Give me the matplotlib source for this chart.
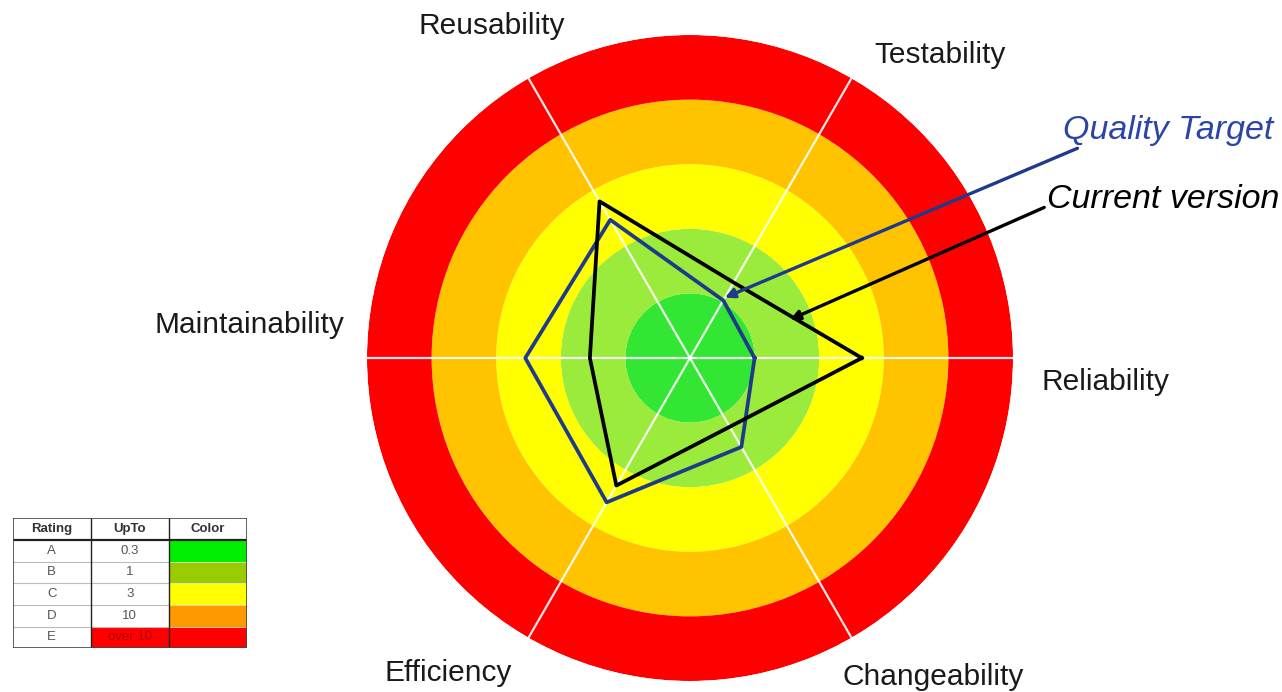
import numpy as np
import matplotlib
matplotlib.use("Agg")
import matplotlib.pyplot as plt
from matplotlib.patches import Rectangle

plt.rcParams['font.family'] = ['Liberation Sans', 'DejaVu Sans']

# ---------------- data ----------------
axes_labels = ["Reliability", "Testability", "Reusability",
               "Maintainability", "Efficiency", "Changeability"]
axes_angles_deg = [0, 60, 120, 180, 240, 300]

# values in rating-band units (0-1 = A, 1-2 = B, 2-3 = C, 3-4 = D, 4-5 = E)
current_version = [2.66, 1.35, 2.80, 1.55, 2.28, 1.23]
quality_target = [1.00, 1.03, 2.47, 2.55, 2.58, 1.59]

ring_colors = ["#33e633", "#9beb3c", "#ffff00", "#ffc300", "#ff0000"]

table_ratings = ["A", "B", "C", "D", "E"]
table_upto = ["0.3", "1", "3", "10", "over 10"]
table_colors = ["#00ee00", "#99cc00", "#ffff00", "#ff9900", "#ff0000"]
table_header = ["Rating", "UpTo", "Color"]

# ---------------- figure ----------------
W, H = 1282, 692
fig = plt.figure(figsize=(W / 100, H / 100), dpi=100)
fig.patch.set_facecolor("white")

cx, cy, R = 690, 358, 323
ax = fig.add_axes([(cx - R) / W, (H - cy - R) / H, 2 * R / W, 2 * R / H],
                  projection="polar")
ax.set_axis_off()
ax.set_ylim(0, 5)

# rating rings
for i, c in enumerate(ring_colors):
    ax.bar(0, 1, width=2 * np.pi, bottom=i, color=c, edgecolor="none",
           zorder=1)

theta = np.deg2rad(axes_angles_deg)
# spokes
for t in theta:
    ax.plot([t, t], [0, 5], color="white", lw=1.6, alpha=0.9, zorder=2)

def closed(vals):
    return np.append(theta, theta[0]), np.append(vals, vals[0])

t_q, v_q = closed(quality_target)
ax.plot(t_q, v_q, color="#1f3a8a", lw=2.7, zorder=3)
t_c, v_c = closed(current_version)
ax.plot(t_c, v_c, color="black", lw=2.7, zorder=4)

# axis labels
label_pos = {
    "Reliability": (1105, 382),
    "Testability": (940, 55),
    "Reusability": (492, 26),
    "Maintainability": (249, 325),
    "Efficiency": (448, 673),
    "Changeability": (933, 677),
}
for name in axes_labels:
    x, y = label_pos[name]
    fig.text(x / W, 1 - y / H, name, ha="center", va="center",
             fontsize=21.5, color="#1a1a1a")

# annotations
ax.annotate("Quality Target",
            xy=(theta[1], quality_target[1] + 0.05), xycoords="data",
            xytext=(1063 / W, 1 - 130 / H), textcoords="figure fraction",
            ha="left", va="center", fontsize=24.5, style="italic",
            color="#2b44a8",
            arrowprops=dict(arrowstyle="-|>", color="#1f3a8a", lw=2.4,
                            mutation_scale=14, shrinkA=0, shrinkB=0,
                            relpos=(0.1, 0.0)),
            zorder=6)
ax.annotate("Current version",
            xy=(np.deg2rad(21), 1.66), xycoords="data",
            xytext=(1047 / W, 1 - 200 / H), textcoords="figure fraction",
            ha="left", va="center", fontsize=24.5, style="italic",
            color="black",
            arrowprops=dict(arrowstyle="-|>", color="black", lw=2.4,
                            mutation_scale=14, shrinkA=0, shrinkB=0,
                            relpos=(0.0, 0.3)),
            zorder=6)

# ---------------- rating table ----------------
tx0, ty0, tx1, ty1 = 12.7, 518.3, 246.7, 648.3
tax = fig.add_axes([tx0 / W, 1 - ty1 / H, (tx1 - tx0) / W, (ty1 - ty0) / H])
tax.set_xlim(0, 3)
tax.set_ylim(6, 0)
tax.set_axis_off()

for j, h in enumerate(table_header):
    tax.text(j + 0.5, 0.5, h, ha="center", va="center", fontsize=9.5,
             fontweight="bold", color="#333333")

for i in range(len(table_ratings)):
    row = i + 1
    tax.add_patch(Rectangle((2, row), 1, 1, facecolor=table_colors[i],
                            edgecolor="none"))
    upto_bg = table_colors[i] if table_upto[i].startswith("over") else "white"
    tax.add_patch(Rectangle((1, row), 1, 1, facecolor=upto_bg,
                            edgecolor="none"))
    tax.text(0.5, row + 0.5, table_ratings[i], ha="center", va="center",
             fontsize=9.5, color="#555555")
    tcol = "#aa0000" if upto_bg != "white" else "#555555"
    tax.text(1.5, row + 0.5, table_upto[i], ha="center", va="center",
             fontsize=9.5, color=tcol)

# grid lines
for r in range(2, 6):
    tax.plot([0, 2], [r, r], color="#bbbbbb", lw=0.8)
    tax.plot([2, 3], [r, r], color="#dddddd", lw=0.6)
tax.plot([0, 3], [1, 1], color="#222222", lw=1.6)
for c in [1, 2]:
    tax.plot([c, c], [0, 6], color="#222222", lw=1.0)
tax.plot([0, 3, 3, 0, 0], [0, 0, 6, 6, 0], color="#444444", lw=1.2)

fig.savefig("out.png", dpi=100, facecolor="white")
